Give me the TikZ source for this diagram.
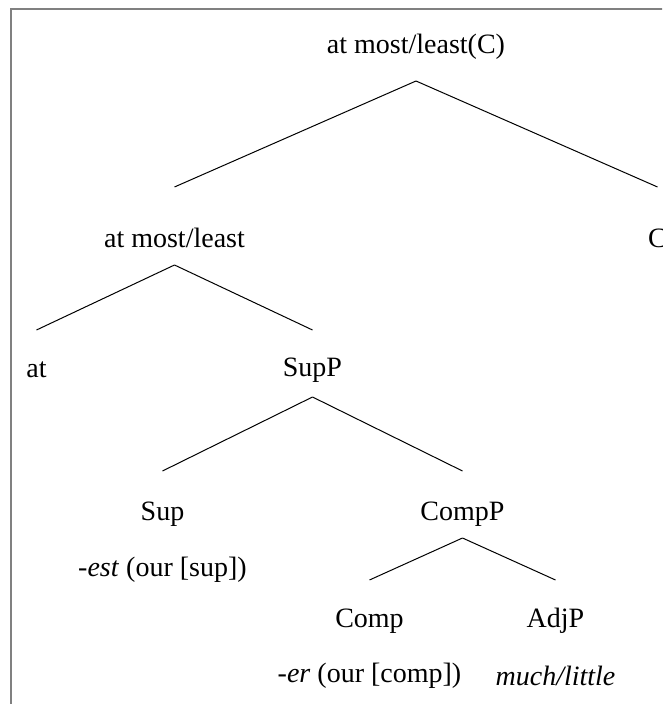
\documentclass[tikz,border=0pt]{standalone}
\usepackage{fontspec}
\setmainfont{Liberation Serif}
\usepackage{tikz}
\usetikzlibrary{calc,trees,positioning}
\tikzset{
    word/.style={inner sep=0pt, font={\fontsize{14pt}{17pt}\selectfont}},
    gloss/.style={word},
    frameline/.style={draw=black!50, line width=1pt},
    % edge with a gap under the parent and above the child
    branch/.style 2 args={
        edge from parent path={
            ($(\tikzparentnode.center)+(0,-#1)$) -- ($(\tikzchildnode.center)+(0,#2)$)}
    },
}

\begin{document}
\begin{tikzpicture}
[
    x=0.5pt, y=0.5pt,
    every node/.style={word},
    edge from parent/.style={draw, line width=0.5pt},
    level 1/.style={level distance=95.5pt, sibling distance=241.5pt, branch={17pt}{25.5pt}},
    level 2/.style={level distance=66pt, sibling distance=138pt, branch={13.5pt}{20pt}},
    level 3/.style={level distance=72pt, sibling distance=150pt, branch={13.5pt}{21.5pt}},
    level 4/.style={level distance=53.5pt, sibling distance=93pt, branch={12pt}{20.5pt}},
]
\useasboundingbox (-416,-657) rectangle (246,47);
\clip (-416,-657) rectangle (246,47);
\draw[frameline] (-405,-660) -- (-405,38) -- (250,38);
\node(top) {at most/least(C)}
    child {node(atml){at most/least}
        child {node(at){at}}
        child {node(supp){SupP}
            child {node(sup){Sup}}
            child {node(compp){CompP}
                child {node(comp){Comp}}
                child {node(adjp){AdjP}}
            }
        }
    }
    child {node(c){C}};
\node[gloss] (supgloss) at ([yshift=-28pt]sup.center) {\textit{-est} (our [sup])};
\node[gloss] (compgloss) at ([yshift=-27.5pt]comp.center) {\textit{-er} (our [comp])};
\node[gloss] (adjgloss) at ([yshift=-27.5pt]adjp.center) {\textit{much/little}};
\end{tikzpicture}
\end{document}
